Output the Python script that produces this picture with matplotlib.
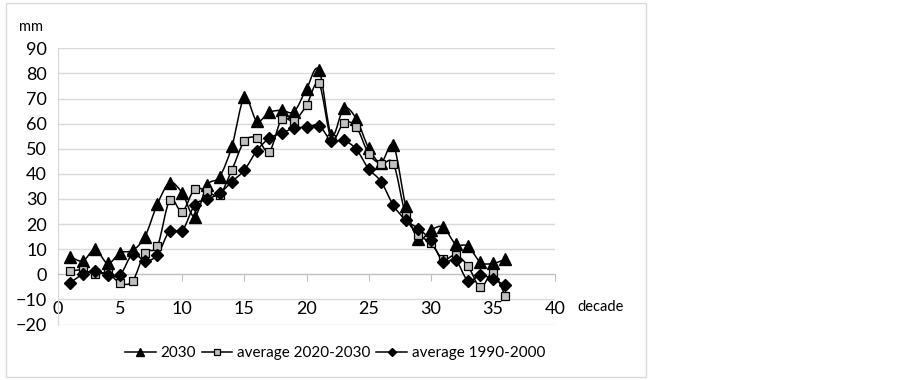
import matplotlib
matplotlib.use("Agg")
import matplotlib.pyplot as plt
from matplotlib.path import Path
from matplotlib.patches import PathPatch, Rectangle
from matplotlib.lines import Line2D
import numpy as np

plt.rcParams['font.family'] = ['Lato', 'DejaVu Sans']

decades = list(range(1, 37))
s2030 = [7, 5.3, 10, 4.3, 8.6, 9.5, 15, 28, 36.5, 32.3, 23, 35.5, 38.8, 51, 70.5, 61,
         64.5, 65.3, 64.8, 73.8, 81.4, 55.5, 66.1, 62, 50.3, 44.5, 51.3, 27, 14, 17.6,
         18.8, 12, 11.2, 4.8, 4.3, 6]
avg2020 = [1.3, 1.7, 0, 0.6, -3.5, -2.7, 8.6, 11.2, 29.6, 25, 34, 33, 31.6, 41.6, 53, 54.2,
           48.8, 61.8, 61, 67.3, 76, 54, 60.3, 58.8, 48, 44, 44, 23.2, 15.8, 12.5,
           6, 7.6, 3.3, -5.2, 0.5, -8.7]
avg1990 = [-3.3, 0, 1.5, -0.4, -0.2, 8, 5.4, 7.7, 17.4, 17.4, 27.6, 29.9, 32.2, 36.9, 41.5,
           49.2, 54.2, 56.2, 58.2, 58.6, 59.2, 53.2, 53.3, 49.8, 42, 36.9, 27.4, 21.5,
           18.2, 13.5, 5, 5.7, -2.6, -0.3, -2, -4.4]
series_labels = ['2030', 'average 2020-2030', 'average 1990-2000']
xticks = list(range(0, 41, 5))
yticks = list(range(-20, 91, 10))


def smooth_path(x, y):
    pts = np.column_stack([x, y]).astype(float)
    n = len(pts)
    verts = [pts[0]]
    codes = [Path.MOVETO]
    for i in range(n - 1):
        p0 = pts[i - 1] if i > 0 else pts[i]
        p1 = pts[i]
        p2 = pts[i + 1]
        p3 = pts[i + 2] if i + 2 < n else pts[i + 1]
        c1 = p1 + (p2 - p0) / 6.0
        c2 = p2 - (p3 - p1) / 6.0
        verts += [c1, c2, p2]
        codes += [Path.CURVE4] * 3
    return Path(verts, codes)


fig = plt.figure(figsize=(8.99, 3.8), dpi=100)
fig.patches.append(Rectangle((6 / 899, 3 / 380), 640 / 899, 374 / 380,
                             transform=fig.transFigure, fill=False,
                             edgecolor='#d9d9d9', linewidth=1.0))
ax = fig.add_axes([58 / 899, 55.5 / 380, 497 / 899, 276.2 / 380])
ax.set_xlim(0, 40)
ax.set_ylim(-20, 90)
ax.set_yticks(yticks)
ax.set_xticks(xticks)
ax.grid(axis='y', color='#d9d9d9', linewidth=1.0)
ax.set_axisbelow(True)
for sp in ['top', 'right']:
    ax.spines[sp].set_visible(False)
ax.spines['left'].set_color('#d9d9d9')
ax.spines['bottom'].set_position(('data', 0))
ax.spines['bottom'].set_color('#bfbfbf')
ax.tick_params(axis='y', length=0, labelsize=13, pad=8)
ax.tick_params(axis='x', length=5, color='#bfbfbf', labelsize=13, pad=14, direction='out')

styles = [
    dict(marker='^', markersize=8, markerfacecolor='black', markeredgecolor='black'),
    dict(marker='s', markersize=6.3, markerfacecolor='#c0c0c0', markeredgecolor='black', markeredgewidth=0.9),
    dict(marker='D', markersize=5.8, markerfacecolor='black', markeredgecolor='black'),
]
handles = []
for data, st, lab in zip([s2030, avg2020, avg1990], styles, series_labels):
    ax.add_patch(PathPatch(smooth_path(decades, data), facecolor='none',
                           edgecolor='black', linewidth=1.1, zorder=3))
    ax.plot(decades, data, linestyle='none', zorder=4, **st)
    handles.append(Line2D([], [], color='black', linewidth=1.1, label=lab, **st))

fig.text(43 / 899, 1 - 27 / 380, 'mm', ha='right', va='center', fontsize=10.5)
fig.text(577 / 899, 1 - 307 / 380, 'decade', ha='left', va='center', fontsize=10.5)

fig.legend(handles=handles, loc='center', bbox_to_anchor=(335 / 899, 1 - 353 / 380),
           ncol=3, frameon=False, fontsize=11, handlelength=2.0, handletextpad=0.3,
           columnspacing=0.4, markerscale=0.7)

fig.savefig('out.png', dpi=100)
